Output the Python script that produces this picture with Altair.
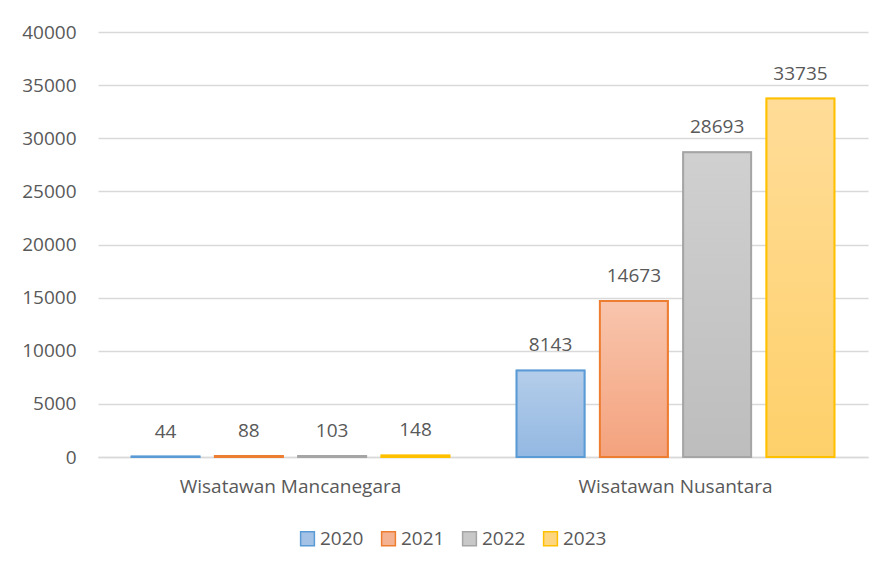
import altair as alt
import pandas as pd

categories = ["Wisatawan Mancanegara", "Wisatawan Nusantara"]
years = ["2020", "2021", "2022", "2023"]
values_2020 = [44, 8143]
values_2021 = [88, 14673]
values_2022 = [103, 28693]
values_2023 = [148, 33735]
y_ticks = [0, 5000, 10000, 15000, 20000, 25000, 30000, 35000, 40000]

stroke_colors = ["#5b9bd5", "#ed7d31", "#a5a5a5", "#ffc000"]
fill_mid = ["#a3c2e6", "#f5b292", "#c8c8c8", "#fed680"]
grad_top = ["#b4cdea", "#f8c5ad", "#d0d0d0", "#ffdc98"]
grad_bot = ["#93b8e2", "#f4a27d", "#bdbdbd", "#fed06a"]

series = [values_2020, values_2021, values_2022, values_2023]
rows = []
for yr, vals in zip(years, series):
    for cat, v in zip(categories, vals):
        rows.append({"kategori": cat, "tahun": yr, "nilai": v})
df = pd.DataFrame(rows)

FONT = "Open Sans"
TXT = "#595959"

base = alt.Chart(df).encode(
    x=alt.X(
        "kategori:N",
        sort=categories,
        scale=alt.Scale(paddingInner=0, paddingOuter=0),
        axis=alt.Axis(
            title=None, labelAngle=0, ticks=False, domain=True, grid=False,
            domainColor="#d9d9d9", domainWidth=1.5, labelLimit=0,
            labelPadding=20, labelFontSize=19, labelColor=TXT, labelFont=FONT,
        ),
    ),
    xOffset=alt.XOffset(
        "tahun:N", sort=years,
        scale=alt.Scale(paddingInner=0.184, paddingOuter=0.403),
    ),
    y=alt.Y(
        "nilai:Q",
        scale=alt.Scale(domain=[0, 40000], nice=False),
        axis=alt.Axis(
            title=None, values=y_ticks, format="d", domain=False, ticks=False,
            grid=True, gridColor="#d9d9d9", gridWidth=1.5,
            labelPadding=22, labelFontSize=19, labelColor=TXT, labelFont=FONT,
        ),
    ),
)

leg = alt.Legend(
    title=None, orient="none", direction="horizontal",
    legendX=200, legendY=497, symbolType="square", symbolSize=190,
    symbolStrokeWidth=1.5, labelFontSize=19, labelColor=TXT,
    labelFont=FONT, labelOffset=3, columnPadding=14,
)

legend_layer = base.mark_bar(strokeWidth=1.5).encode(
    fill=alt.Fill("tahun:N", scale=alt.Scale(domain=years, range=fill_mid), legend=leg),
    stroke=alt.Stroke("tahun:N", scale=alt.Scale(domain=years, range=stroke_colors), legend=leg),
)

grad_layers = []
for yr, top, bot, sc in zip(years, grad_top, grad_bot, stroke_colors):
    g = alt.LinearGradient(
        gradient="linear",
        stops=[alt.GradientStop(color=top, offset=0), alt.GradientStop(color=bot, offset=1)],
        x1=0, x2=0, y1=0, y2=1,
    )
    grad_layers.append(
        base.transform_filter(alt.datum.tahun == yr).mark_bar(
            fill=g, stroke=sc, strokeWidth=2
        )
    )

labels = base.mark_text(
    dy=-25, baseline="middle", align="center", fontSize=19, color=TXT, font=FONT
).encode(text=alt.Text("nilai:Q", format="d"))

chart = alt.layer(legend_layer, *grad_layers, labels).properties(
    width=770,
    height=425,
    background="white",
    autosize=alt.AutoSizeParams(type="none"),
    padding={"left": 90, "top": 24, "right": 14, "bottom": 112},
).configure_view(stroke=None)

chart.save("out.html", embed_options={"renderer": "svg", "actions": False})
